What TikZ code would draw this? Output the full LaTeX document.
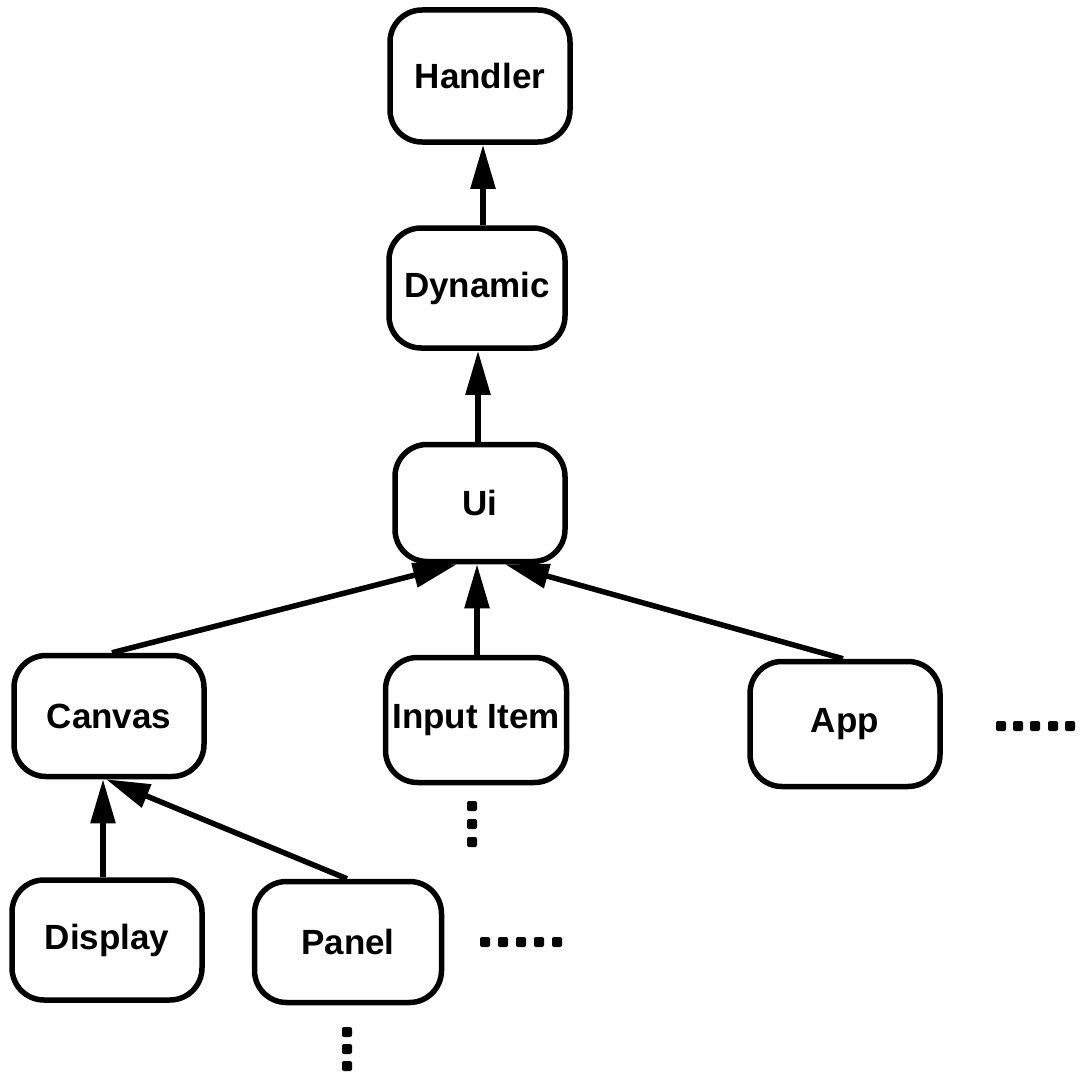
\documentclass[tikz,border=0pt]{standalone}
\usepackage{fontspec}
\setmainfont{Liberation Sans}
\usetikzlibrary{arrows.meta}

\tikzset{
  classbox/.style={draw, line width=5.5pt, rounded corners=32pt,
    font=\fontsize{35}{40}\selectfont\bfseries, inner sep=0pt, align=center},
  inherit/.style={line width=5.5pt, -{Triangle[length=44pt,width=24pt]}},
  dot/.style={fill, rounded corners=2pt}
}

\begin{document}
\begin{tikzpicture}[x=1pt, y=-1pt]
  \useasboundingbox (0,0) rectangle (1080,1073);

  % class hierarchy boxes
  \node[classbox, minimum width=180pt, minimum height=132pt] (handler) at (480,76)  {Handler};
  \node[classbox, minimum width=176pt, minimum height=120pt] (dynamic) at (477,288) {Dynamic};
  \node[classbox, minimum width=170pt, minimum height=117pt] (ui)      at (480,503) {Ui};
  \node[classbox, minimum width=190pt, minimum height=121pt] (canvas)  at (109,716) {Canvas};
  \node[classbox, minimum width=181pt, minimum height=125pt] (input)   at (476,720) {Input Item};
  \node[classbox, minimum width=190pt, minimum height=125pt] (app)     at (845,724) {App};
  \node[classbox, minimum width=190pt, minimum height=120pt] (display) at (107,940) {Display};
  \node[classbox, minimum width=187pt, minimum height=121pt] (panel)   at (348,942) {Panel};

  % inheritance arrows, subclass to superclass
  \draw[inherit] (dynamic.north -| 483,0) -- (handler.south -| 483,0);
  \draw[inherit] (ui.north -| 478,0) -- (dynamic.south -| 478,0);
  \draw[inherit] (canvas.north -| 112,0) -- (ui.south -| 457,0);
  \draw[inherit] (input.north -| 477,0) -- (ui.south -| 477,0);
  \draw[inherit] (app.north -| 843,0) -- (ui.south -| 505,0);
  \draw[inherit] (display.north -| 103,0) -- (canvas.south -| 103,0);
  \draw[inherit] (panel.north -| 347,0) -- (canvas.south -| 106,0);

  % ellipses marking further subclasses
  \foreach \x in {1001,1018,1035,1053,1070}
    \fill[dot] (\x-5,721) rectangle (\x+5,731);
  \foreach \x in {485,503,521,539,557}
    \fill[dot] (\x-5,937) rectangle (\x+5,947);
  \foreach \y in {806,824,842}
    \fill[dot] (467,\y-5) rectangle (477,\y+5);
  \foreach \y in {1032,1049,1066}
    \fill[dot] (342,\y-5) rectangle (352,\y+5);
\end{tikzpicture}
\end{document}
